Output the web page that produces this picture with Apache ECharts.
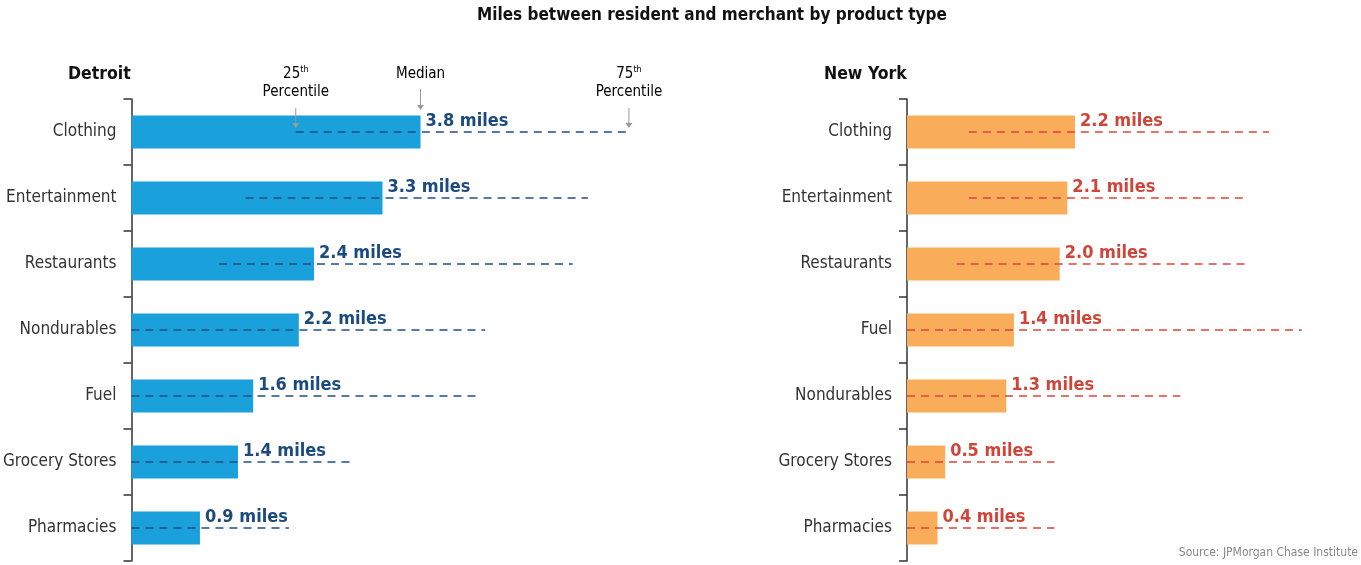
<!DOCTYPE html>
<html>
<head>
<meta charset="utf-8">
<script src="https://cdn.jsdelivr.net/npm/echarts@6/dist/echarts.min.js"></script>
<style>html,body{margin:0;padding:0;background:#fff}#c{width:1361px;height:565px}</style>
</head>
<body>
<div id="c"></div>
<script>
// Detroit
const detCats = ['Clothing','Entertainment','Restaurants','Nondurables','Fuel','Grocery Stores','Pharmacies'];
const detMedian = [3.8, 3.3, 2.4, 2.2, 1.6, 1.4, 0.9];
const detP25 = [2.16, 1.5, 1.15, 0, 0, 0, 0];
const detP75 = [6.54, 6.0, 5.8, 4.65, 4.55, 2.9, 2.07];
// New York
const nyCats = ['Clothing','Entertainment','Restaurants','Fuel','Nondurables','Grocery Stores','Pharmacies'];
const nyMedian = [2.2, 2.1, 2.0, 1.4, 1.3, 0.5, 0.4];
const nyP25 = [0.81, 0.81, 0.65, 0, 0, 0, 0];
const nyP75 = [4.74, 4.4, 4.48, 5.17, 3.58, 1.93, 1.93];

const FONT = "'Liberation Sans Narrow', 'DejaVu Sans Condensed', sans-serif";
const chart = echarts.init(document.getElementById('c'));

function rangeSeries(idx, p25, p75, color) {
  return {
    type: 'custom', xAxisIndex: idx, yAxisIndex: idx, z: 5, silent: true,
    data: p25.map((v, i) => [v, p75[i], i]),
    renderItem: function (params, api) {
      const a = api.coord([api.value(0), api.value(2)]);
      const b = api.coord([api.value(1), api.value(2)]);
      return { type: 'line', shape: { x1: a[0], y1: a[1], x2: b[0], y2: b[1] },
        style: { stroke: color, lineWidth: 1.5, lineDash: [8, 6] } };
    }
  };
}
function yAxis(idx, cats) {
  return {
    type: 'category', gridIndex: idx, data: cats, inverse: true,
    axisLine: { show: true, lineStyle: { color: '#333', width: 1.5 } },
    axisTick: { show: true, length: 8, lineStyle: { color: '#333', width: 1.5 } },
    axisLabel: { color: '#333', fontSize: 17, fontFamily: FONT, margin: 15 }
  };
}
function xAxis(idx, max) {
  return { type: 'value', gridIndex: idx, min: 0, max: max, show: false, splitLine: { show: false } };
}
function barSeries(idx, vals, color, labColor) {
  return {
    type: 'bar', xAxisIndex: idx, yAxisIndex: idx, data: vals, barWidth: '50%',
    itemStyle: { color: color }, silent: true,
    label: { show: true, position: 'right', distance: 5, offset: [0, -11],
      formatter: p => p.value.toFixed(1) + ' miles',
      color: labColor, fontSize: 18, fontWeight: 'bold', fontFamily: FONT }
  };
}

chart.setOption({
  animation: false,
  title: [
    { text: 'Miles between resident and merchant by product type', left: 472, top: 2,
      textStyle: { fontSize: 17, fontWeight: 'bold', color: '#111', fontFamily: FONT } },
    { text: 'Detroit', left: 63, top: 60, textStyle: { fontSize: 17.5, fontWeight: 'bold', color: '#111', fontFamily: FONT } },
    { text: 'New York', left: 819, top: 60, textStyle: { fontSize: 17.5, fontWeight: 'bold', color: '#111', fontFamily: FONT } }
  ],
  grid: [
    { left: 130, top: 99, width: 610, height: 462 },
    { left: 907, top: 99, width: 420, height: 462 }
  ],
  xAxis: [xAxis(0, 8), xAxis(1, 5.5)],
  yAxis: [yAxis(0, detCats), yAxis(1, nyCats)],
  series: [
    barSeries(0, detMedian, '#1aa0db', '#1b4a7e'),
    rangeSeries(0, detP25, detP75, '#1f4f85'),
    barSeries(1, nyMedian, '#f9ad5b', '#d0453a'),
    rangeSeries(1, nyP25, nyP75, '#d9473c')
  ]
});

// Annotations on Detroit Clothing row, positioned via the axes
const xP25 = chart.convertToPixel({ xAxisIndex: 0 }, detP25[0]);
const xMed = chart.convertToPixel({ xAxisIndex: 0 }, detMedian[0]);
const xP75 = chart.convertToPixel({ xAxisIndex: 0 }, detP75[0]);
const gray = '#9a9a9a';
function arrow(x, y1, y2) {
  return [
    { type: 'line', z: 100, shape: { x1: x, y1: y1, x2: x, y2: y2 - 3 }, style: { stroke: gray, lineWidth: 1 } },
    { type: 'polygon', z: 100, shape: { points: [[x - 3.5, y2 - 5], [x + 3.5, y2 - 5], [x, y2]] }, style: { fill: gray } }
  ];
}
const rich = {
  n: { fontSize: 15, color: '#444', fontFamily: FONT, lineHeight: 18 },
  s: { fontSize: 9, color: '#444', fontFamily: FONT, lineHeight: 18, verticalAlign: 'top', padding: [0, 0, 6, 0] }
};
chart.setOption({
  graphic: [
    { type: 'text', z: 100, x: xP25, y: 65, style: { text: '{n|25}{s|th}\n{n|Percentile}', rich: rich, align: 'center' } },
    { type: 'text', z: 100, x: xMed, y: 65, style: { text: '{n|Median}', rich: rich, align: 'center' } },
    { type: 'text', z: 100, x: xP75, y: 65, style: { text: '{n|75}{s|th}\n{n|Percentile}', rich: rich, align: 'center' } },
    ...arrow(xP25, 108, 128), ...arrow(xMed, 89, 110), ...arrow(xP75, 108, 128),
    { type: 'text', right: 3, top: 547, style: { text: 'Source: JPMorgan Chase Institute', fontSize: 12, fill: '#888', fontFamily: FONT } }
  ]
});
</script>
</body>
</html>
